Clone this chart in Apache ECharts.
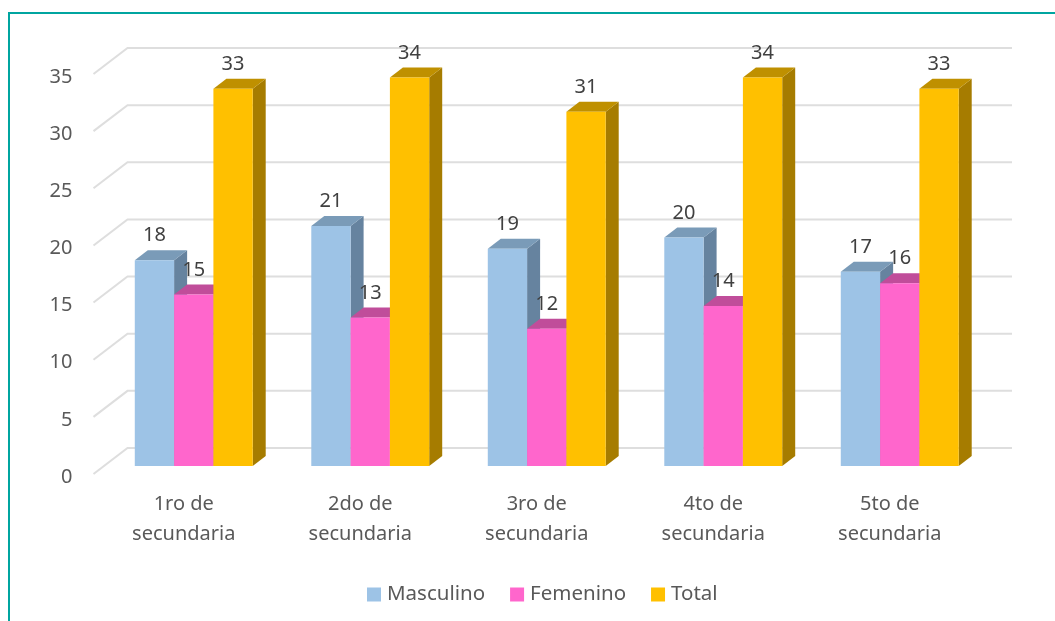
<!DOCTYPE html>
<html>
<head>
<meta charset="utf-8">
<style>html,body{margin:0;padding:0;background:#fff}#c{width:1055px;height:621px}</style>
<script src="https://cdn.jsdelivr.net/npm/echarts@6/dist/echarts.min.js"></script>
</head>
<body>
<div id="c"></div>
<script>
const categories = ['1ro de secundaria','2do de secundaria','3ro de secundaria','4to de secundaria','5to de secundaria'];
const masculino = [18,21,19,20,17];
const femenino = [15,13,12,14,16];
const total = [33,34,31,34,33];
const yTicks = [0,5,10,15,20,25,30,35];

const FONT = '"Noto Sans", sans-serif';
const DEPTH_X = 13, DEPTH_Y = 10, BAR_RATIO = 0.2227;

function barSeries(name, values, slot, front, top, side) {
  return {
    name, type: 'custom', coordinateSystem: 'cartesian2d',
    data: values.map((v, i) => [i, v]),
    encode: { x: 0, y: 1 },
    itemStyle: { color: front },
    z: 3 + slot,
    renderItem(params, api) {
      const i = api.value(0), v = api.value(1);
      const base = api.coord([i, 0]), tip = api.coord([i, v]);
      const w = api.size([1, 0])[0] * BAR_RATIO;
      const x0 = base[0] + (slot - 1.5) * w, x1 = x0 + w;
      const y0 = base[1], y1 = tip[1];
      return { type: 'group', children: [
        { type: 'polygon', shape: { points: [[x1,y0],[x1+DEPTH_X,y0-DEPTH_Y],[x1+DEPTH_X,y1-DEPTH_Y],[x1,y1]] }, style: { fill: side } },
        { type: 'polygon', shape: { points: [[x0,y1],[x0+DEPTH_X,y1-DEPTH_Y],[x1+DEPTH_X,y1-DEPTH_Y],[x1,y1]] }, style: { fill: top } },
        { type: 'rect', shape: { x: x0, y: y1, width: w, height: y0 - y1 }, style: { fill: front } },
        { type: 'text', z2: 10, style: { x: (x0 + x1) / 2, y: y1 - 24.5, text: String(v), fill: '#404040', font: '20px ' + FONT, align: 'center', verticalAlign: 'middle' } }
      ]};
    }
  };
}

const wallSeries = {
  name: 'walls', type: 'custom', coordinateSystem: 'cartesian2d', silent: true, z: 1,
  data: yTicks.map(v => [0, v]),
  encode: { x: 0, y: 1 },
  renderItem(params, api) {
    const y = api.coord([0, api.value(1)])[1];
    const cs = params.coordSys;
    const l = cs.x, r = cs.x + cs.width;
    const st = { stroke: '#DEDEDE', lineWidth: 2, fill: 'none' };
    return { type: 'polyline', shape: { points: [[l-12,y+8],[l+22,y-18],[r+24,y-18]] }, style: st };
  }
};

const chart = echarts.init(document.getElementById('c'), null, { renderer: 'canvas' });
chart.setOption({
  animation: false,
  backgroundColor: '#fff',
  textStyle: { fontFamily: FONT },
  grid: { left: 105.5, width: 882.5, top: 66, height: 400 },
  legend: {
    data: ['Masculino','Femenino','Total'],
    left: 367, top: 584, padding: 0, icon: 'rect', itemWidth: 14, itemHeight: 14, itemGap: 25,
    textStyle: { fontSize: 20.5, color: '#595959', fontFamily: FONT, padding: [0,0,2,1] }
  },
  xAxis: {
    type: 'category', data: categories,
    axisLine: { show: false }, axisTick: { show: false },
    axisLabel: {
      interval: 0, margin: 23, fontSize: 20, lineHeight: 30, color: '#595959', fontFamily: FONT,
      padding: [0,20,0,0],
      formatter: s => s.replace(' secundaria', '\nsecundaria')
    }
  },
  yAxis: {
    type: 'value', min: 0, max: 35, interval: 5,
    axisLine: { show: false }, axisTick: { show: false }, splitLine: { show: false },
    axisLabel: { margin: 33, fontSize: 20, color: '#595959', fontFamily: FONT, verticalAlign: 'top', lineHeight: 22 }
  },
  graphic: [{
    type: 'polyline', silent: true,
    shape: { points: [[9,621],[9,13],[1055,13]] },
    style: { stroke: '#00A5A0', lineWidth: 2, fill: 'none' }
  }],
  series: [
    wallSeries,
    barSeries('Masculino', masculino, 0, '#9DC3E6', '#7A9BB8', '#66839F'),
    barSeries('Femenino', femenino, 1, '#FF66CC', '#C04D9A', '#A8438A'),
    barSeries('Total', total, 2, '#FFC000', '#BF9000', '#A67C00')
  ]
});
</script>
</body>
</html>
